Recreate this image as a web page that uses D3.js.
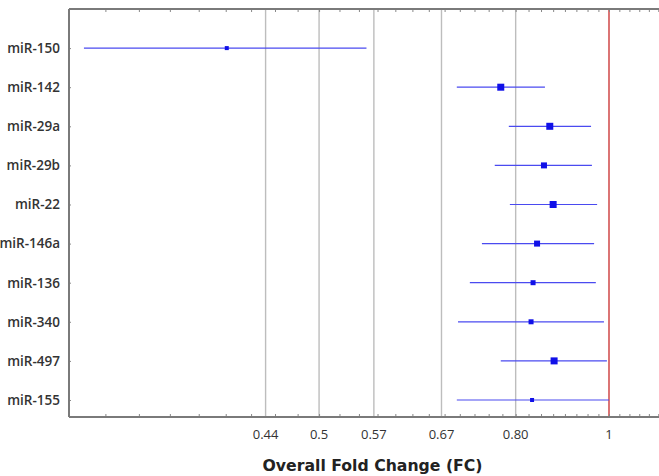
<!DOCTYPE html>
<html><head><meta charset="utf-8">
<script src="https://cdn.jsdelivr.net/npm/d3@7"></script>
<style>
html,body{margin:0;padding:0;background:#fff;overflow:hidden;}
svg{display:block;}
</style></head>
<body>
<svg id="chart" width="659" height="476"></svg>
<script>
const categories = ["miR-150","miR-142","miR-29a","miR-29b","miR-22","miR-146a","miR-136","miR-340","miR-497","miR-155"];
const foldChange = [0.401,0.772,0.868,0.856,0.875,0.842,0.834,0.830,0.877,0.832];
const ciLower    = [0.285,0.695,0.787,0.761,0.789,0.738,0.717,0.697,0.772,0.695];
const ciUpper    = [0.560,0.858,0.958,0.960,0.972,0.965,0.969,0.988,0.995,1.000];
const markerSize = [4,7,7,6,7,6,5,5,7,4];
const tickValues = [0.44, 0.5, 0.57, 0.67, 0.8, 1];
const tickLabels = ["0.44","0.5","0.57","0.67","0.80","1"];

(function () {
const svg = d3.select("#chart");
const mLeft = 69, mTop = 9, mBottom = 417, refX = 609;

const x = d3.scaleLog().domain([0.275, 1]).range([mLeft, refX]);
const xMax = 1.16;
const y = d3.scaleLinear().domain([-1, 9.435]).range([mTop, mBottom]);

// gridlines
svg.append("g").selectAll("line").data(tickValues).join("line")
  .attr("x1", d => x(d)).attr("x2", d => x(d))
  .attr("y1", mTop).attr("y2", mBottom)
  .attr("stroke", d => d === 1 ? "#cc3a3a" : "#bdbdbd")
  .attr("stroke-width", 1.4);

// axes
const axisColor = "#7a7a7a";
const minor = d3.range(0.3, xMax, 0.025);
const xBottom = d3.axisBottom(x).tickValues(minor).tickSize(-3).tickFormat("");
const xTop = d3.axisTop(x).tickValues(minor).tickSize(-3).tickFormat("");
[[xBottom, mBottom], [xTop, mTop]].forEach(([ax, yy]) => {
  const g = svg.append("g").attr("transform", `translate(0,${yy})`).call(ax);
  g.select(".domain").remove();
  g.selectAll(".tick line").attr("stroke", "#888").attr("stroke-width", 1);
  g.append("line").attr("x1", mLeft).attr("x2", x(xMax)).attr("y1", 0).attr("y2", 0)
    .attr("stroke", axisColor).attr("stroke-width", 2);
});

// tick labels
svg.append("g").selectAll("text").data(tickValues).join("text")
  .attr("x", (d) => x(d)).attr("y", 438.5)
  .attr("text-anchor", "middle")
  .attr("font-family", "Open Sans, sans-serif").attr("font-size", 13)
  .attr("fill", "#333")
  .text((d, i) => tickLabels[i]);

// left axis
const yAxis = d3.axisLeft(y).tickValues(d3.range(categories.length)).tickSize(-2).tickPadding(8).tickFormat(i => categories[i]);
const gy = svg.append("g").attr("transform", `translate(${mLeft},0)`).call(yAxis);
gy.select(".domain").remove();
gy.selectAll(".tick line").attr("stroke", "#888");
gy.selectAll(".tick text").attr("font-family", "Open Sans, sans-serif").attr("font-size", 13.5)
  .attr("font-weight", 600).attr("fill", "#333").attr("x", -9);
gy.append("line").attr("x1", 0).attr("x2", 0).attr("y1", mTop).attr("y2", mBottom)
  .attr("stroke", axisColor).attr("stroke-width", 2);

// error bars
const idx = d3.range(categories.length);
svg.append("g").selectAll("line").data(idx).join("line")
  .attr("x1", i => x(ciLower[i])).attr("x2", i => x(ciUpper[i]))
  .attr("y1", i => y(i)).attr("y2", i => y(i))
  .attr("stroke", "#4a4af0").attr("stroke-width", 1.2);

// markers
svg.append("g").selectAll("rect").data(idx).join("rect")
  .attr("x", i => x(foldChange[i]) - markerSize[i] / 2)
  .attr("y", i => y(i) - markerSize[i] / 2)
  .attr("width", i => markerSize[i]).attr("height", i => markerSize[i])
  .attr("fill", "#1010e8");

// x title
svg.append("text").attr("x", 372.5).attr("y", 471).attr("text-anchor", "middle")
  .attr("font-family", "DejaVu Sans, sans-serif").attr("font-size", 15.7).attr("font-weight", 700)
  .attr("fill", "#222").text("Overall Fold Change (FC)");
})();
</script>
</body></html>
